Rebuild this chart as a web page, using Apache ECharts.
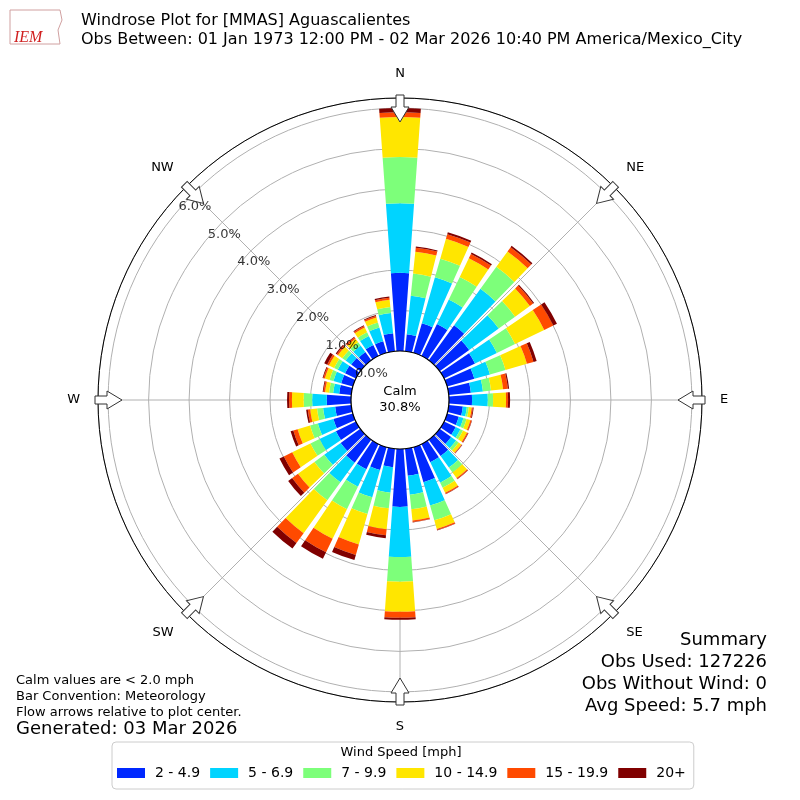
<!DOCTYPE html>
<html><head><meta charset="utf-8">
<script src="https://cdn.jsdelivr.net/npm/echarts@6/dist/echarts.min.js"></script>
<style>html,body{margin:0;padding:0;background:#fff}#c{width:800px;height:800px}</style>
</head><body><div id="c"></div>
<script>
const directions = ['0','10','20','30','40','50','60','70','80','90','100','110','120','130','140','150','160','170','180','190','200','210','220','230','240','250','260','270','280','290','300','310','320','330','340','350'];
const speedBins = ['2 - 4.9','5 - 6.9','7 - 9.9','10 - 14.9','15 - 19.9','20+'];
const binColors = ['#0028ff','#00d4ff','#7dff7a','#ffe600','#ff4a00','#800000'];
// percent of observations per direction, per speed bin
const s2_49   = [1.93,0.42,0.76,0.88,1.07,0.90,0.85,0.70,0.55,0.57,0.35,0.30,0.32,0.35,0.50,0.50,0.90,0.67,1.43,0.46,0.59,0.69,0.70,0.60,0.55,0.50,0.40,0.60,0.30,0.30,0.30,0.28,0.25,0.30,0.30,0.45];
const s5_69   = [1.72,0.96,1.18,0.67,1.11,0.90,0.60,0.40,0.30,0.39,0.10,0.12,0.13,0.15,0.35,0.56,0.60,0.47,1.24,0.63,0.70,0.48,0.60,0.50,0.45,0.40,0.30,0.36,0.15,0.20,0.20,0.17,0.20,0.25,0.35,0.50];
const s7_99   = [1.14,0.55,0.48,0.62,0.67,0.50,0.50,0.40,0.20,0.13,0.05,0.08,0.07,0.08,0.15,0.14,0.38,0.36,0.61,0.39,0.43,0.62,0.55,0.30,0.25,0.20,0.15,0.21,0.10,0.10,0.10,0.10,0.10,0.10,0.13,0.15];
const s10_149 = [0.99,0.54,0.51,0.51,0.47,0.45,0.80,0.55,0.30,0.32,0.07,0.10,0.11,0.08,0.17,0.14,0.22,0.28,0.74,0.52,0.78,0.81,1.00,0.50,0.50,0.32,0.17,0.29,0.10,0.12,0.14,0.13,0.11,0.13,0.13,0.18];
const s15_199 = [0.12,0.10,0.12,0.12,0.13,0.10,0.25,0.17,0.12,0.05,0.03,0.03,0.03,0.02,0.03,0.03,0.03,0.04,0.15,0.15,0.27,0.37,0.30,0.18,0.23,0.11,0.06,0.07,0.04,0.04,0.05,0.04,0.04,0.04,0.04,0.05];
const s20p    = [0.10,0.03,0.05,0.04,0.04,0.03,0.10,0.08,0.03,0.05,0.02,0.01,0.01,0.01,0.01,0.01,0.01,0.01,0.05,0.07,0.13,0.18,0.17,0.12,0.12,0.07,0.04,0.05,0.02,0.02,0.08,0.03,0.02,0.02,0.02,0.03];
const ringTicks = [0,1,2,3,4,5,6];
const compass = {0:'N',45:'NE',90:'E',135:'SE',180:'S',225:'SW',270:'W',315:'NW'};
const calmText = 'Calm\n30.8%';

const allBins = [s2_49,s5_69,s7_99,s10_149,s15_199,s20p];
const FONT = 'DejaVu Sans';
const R0 = 49, R1 = 302;
const chart = echarts.init(document.getElementById('c'));

const series = allBins.map((d,i)=>({
  name: speedBins[i], type:'bar', coordinateSystem:'polar', polarIndex:0,
  stack:'w', data:d, barCategoryGap:'18%', itemStyle:{color:binColors[i]}, z:3
}));
series.push({
  type:'scatter', coordinateSystem:'polar', polarIndex:1, symbolSize:0, clip:false,
  data: ringTicks.map(v=>[v, 313.4]),
  label:{show:true, position:'inside', offset:[7,7], formatter:p=>(p.dataIndex).toFixed(1)+'%', color:'#000', fontSize:13, fontFamily:FONT},
  z:9, silent:true
});

const graphics = [];
Object.keys(compass).forEach(k=>{
  const t = +k*Math.PI/180, r = 291;
  graphics.push({type:'polygon', x:400+r*Math.sin(t), y:400-r*Math.cos(t), rotation:-t, z:10,
    shape:{points:[[-4,-14],[4,-14],[4,-2],[9,-2],[0,13],[-9,-2],[-4,-2]]},
    style:{fill:'#fff', stroke:'#333', lineWidth:1}});
});
graphics.push({type:'circle', shape:{cx:400, cy:400, r:R0}, style:{fill:'#fff', stroke:'#000', lineWidth:1.2}, z:4});
graphics.push({type:'text', x:400, y:400, z:9, style:{text:calmText, font:'13px '+FONT, fill:'#000', align:'center', verticalAlign:'middle', lineHeight:16}});
graphics.push({type:'text', x:81, y:11, style:{text:'Windrose Plot for [MMAS] Aguascalientes\nObs Between: 01 Jan 1973 12:00 PM - 02 Mar 2026 10:40 PM America/Mexico_City', font:'16px '+FONT, fill:'#000', lineHeight:19}});
graphics.push({type:'text', x:14, y:30, style:{text:'IEM', font:'italic 16px "Liberation Serif"', fill:'#d02020'}});
graphics.push({type:'polyline', shape:{points:[[10,10],[60,10],[62,20],[58,30],[60,44],[10,44],[10,10]]}, style:{fill:'none', stroke:'#d0a0a0', lineWidth:1}});
graphics.push({type:'text', x:16, y:673, style:{text:'Calm values are < 2.0 mph\nBar Convention: Meteorology\nFlow arrows relative to plot center.', font:'13px '+FONT, fill:'#000', lineHeight:16}});
graphics.push({type:'text', x:16, y:720, style:{text:'Generated: 03 Mar 2026', font:'18px '+FONT, fill:'#000'}});
graphics.push({type:'text', x:767, y:629, style:{text:'Summary\nObs Used: 127226\nObs Without Wind: 0\nAvg Speed: 5.7 mph', font:'18px '+FONT, fill:'#000', align:'right', lineHeight:22}});
graphics.push({type:'text', x:401, y:746, z:20, style:{text:'Wind Speed [mph]', font:'13px '+FONT, fill:'#000', align:'center'}});

chart.setOption({
  animation:false,
  textStyle:{fontFamily:FONT},
  polar:[
    {center:['50%','50%'], radius:[R0,R1]},
    {center:['50%','50%'], radius:[R0,R1]}
  ],
  angleAxis:[
    {polarIndex:0, type:'category', data:directions, startAngle:95, clockwise:true,
     axisLine:{show:false}, axisTick:{show:false}, axisLabel:{show:false}, splitLine:{show:false}},
    {polarIndex:1, type:'value', min:0, max:360, interval:45, startAngle:90, clockwise:true,
     axisLine:{show:true, lineStyle:{color:'#000', width:1}}, axisTick:{show:false},
     axisLabel:{show:true, margin:18, color:'#000', fontSize:13, fontFamily:FONT, formatter:v=>compass[v]||''},
     splitLine:{show:true, lineStyle:{color:'#b0b0b0', width:1}}}
  ],
  radiusAxis:[
    {polarIndex:0, type:'value', min:0, max:6.25, show:false, splitLine:{show:false}, axisLabel:{show:false}},
    {polarIndex:1, type:'value', min:0, max:6.25, interval:1, axisLine:{show:false}, axisTick:{show:false}, axisLabel:{show:false},
     splitLine:{show:true, lineStyle:{color:'#b0b0b0', width:1}}}
  ],
  legend:{data:speedBins, top:742, left:112, itemWidth:28, itemHeight:10, itemGap:10,
    padding:[24,8,9,5], borderColor:'#ccc', borderWidth:1, borderRadius:4, backgroundColor:'#fff',
    textStyle:{fontSize:14, fontFamily:FONT, color:'#000', padding:[0,0,0,5]}, icon:'rect'},
  graphic:graphics,
  series:series
});
</script></body></html>
